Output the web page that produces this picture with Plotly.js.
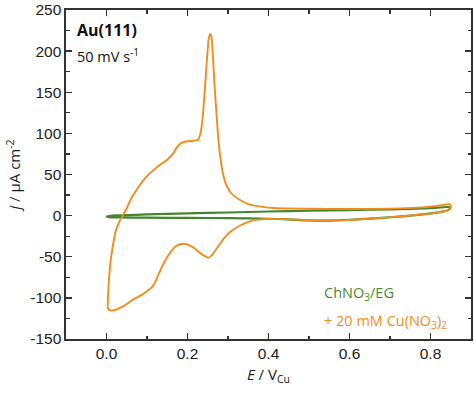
<!DOCTYPE html>
<html>
<head>
<meta charset="utf-8">
<script src="https://cdn.plot.ly/plotly-3.0.1.min.js"></script>
<style>html,body{margin:0;padding:0;background:#fff;}#chart{width:474px;height:395px;}</style>
</head>
<body>
<div id="chart"></div>
<script>
// Orange: + 20 mM Cu(NO3)2 (anodic then cathodic sweep)
var cuE = [0.003,0.004,0.006,0.010,0.016,0.022,0.030,0.040,0.050,0.060,0.070,0.085,0.100,0.115,0.130,0.150,0.165,0.175,0.185,0.200,0.215,0.225,0.232,0.238,0.243,0.248,0.252,0.256,0.259,0.262,0.266,0.270,0.275,0.280,0.288,0.296,0.305,0.315,0.330,0.350,0.380,0.420,0.500,0.600,0.700,0.780,0.820,0.845,0.850,
           0.848,0.840,0.820,0.780,0.720,0.660,0.600,0.550,0.500,0.450,0.400,0.360,0.330,0.310,0.296,0.285,0.272,0.262,0.252,0.242,0.231,0.218,0.206,0.195,0.185,0.172,0.160,0.148,0.138,0.128,0.120,0.112,0.100,0.088,0.075,0.062,0.050,0.038,0.025,0.015,0.008,0.004,0.003];
var cuJ = [-111,-95,-78,-56,-36,-20,-9,0,9,20,28,39,48,55,61,68,76,84,88.5,90.5,91,92,100,122,155,190,214,221,218,200,165,135,100,75,50,37,29,24,19,14,11,9,8.5,8,8.5,10,12,13.8,12.5,
           9,6,4,1.5,-1.2,-3.5,-5.3,-6,-5.5,-4.5,-4,-6,-12,-18,-24,-31,-40,-47,-51,-49,-45.5,-40,-36.5,-34.5,-34.5,-37,-43,-52,-61,-72,-81,-87,-92,-96,-99.5,-103,-107.5,-111,-114,-115.5,-115,-113,-111];
// Green: ChNO3/EG blank
var blankE = [0.000,0.020,0.100,0.200,0.300,0.400,0.500,0.600,0.700,0.800,0.840,0.850,0.845,0.820,0.750,0.700,0.600,0.550,0.500,0.450,0.400,0.300,0.200,0.100,0.030,0.005,0.000];
var blankJ = [-1.2,0.2,1.5,2.8,3.8,5,6,6.8,7.5,9,10.5,10,7,4,0,-2,-5,-6,-5.8,-4.5,-3.8,-3,-2.8,-2.5,-2.2,-1.8,-1.2];

var xTicks = [0.0,0.2,0.4,0.6,0.8];
var xTickText = ['0.0','0.2','0.4','0.6','0.8'];
var yTicks = [-150,-100,-50,0,50,100,150,200,250];
var yTickText = ['-150','-100','-50','0','50','100','150','200','250'];

var green = '#44862f';
var orange = '#f28c1c';
var tickFont = {family:'Liberation Sans, Arial, sans-serif', size:15.5, color:'#222'};
var txtFont = 'Open Sans, Noto Sans, sans-serif';

var traces = [
  {x: blankE, y: blankJ, mode:'lines', line:{color:green, width:2.2, shape:'spline', smoothing:0.5}, hoverinfo:'skip'},
  {x: cuE, y: cuJ, mode:'lines', line:{color:orange, width:1.9, shape:'spline', smoothing:0.4}, hoverinfo:'skip'}
];

var axisCommon = {
  showline:true, linecolor:'#333', linewidth:1.6, mirror:'ticks',
  ticks:'inside', ticklen:6, tickwidth:1.4, tickcolor:'#333',
  showgrid:false, zeroline:false, tickfont:tickFont
};

var layout = {
  width:474, height:395,
  margin:{l:66, r:3, t:10, b:56},
  paper_bgcolor:'#fff', plot_bgcolor:'#fff',
  showlegend:false,
  xaxis: Object.assign({}, axisCommon, {
    range:[-0.1,0.9], tickmode:'array', tickvals:xTicks, ticktext:xTickText,
    minor:{ticks:'inside', dtick:0.1, tick0:0, ticklen:3.5, tickwidth:1.2, tickcolor:'#333'},
    title:{text:'<i>E</i> / V<sub>Cu</sub>', font:{family:txtFont, size:15, color:'#222'}, standoff:8}
  }),
  yaxis: Object.assign({}, axisCommon, {
    range:[-150,250], tickmode:'array', tickvals:yTicks, ticktext:yTickText,
    minor:{ticks:'inside', dtick:25, tick0:0, ticklen:3.5, tickwidth:1.2, tickcolor:'#333'},
    title:{text:'<i>j</i> / μA cm<sup>-2</sup>', font:{family:txtFont, size:15, color:'#222'}, standoff:6}
  }),
  annotations:[
    {xref:'paper', yref:'paper', x:0.022, y:0.94, xanchor:'left', yanchor:'middle', showarrow:false,
     text:'<b>Au(111)</b>', font:{family:txtFont, size:16, color:'#111'}},
    {xref:'paper', yref:'paper', x:0.022, y:0.863, xanchor:'left', yanchor:'middle', showarrow:false,
     text:'50 mV s<sup>-1</sup>', font:{family:txtFont, size:14.5, color:'#111'}},
    {xref:'paper', yref:'paper', x:0.633, y:0.137, xanchor:'left', yanchor:'middle', showarrow:false,
     text:'ChNO<sub>3</sub>/EG', font:{family:txtFont, size:14.5, color:'#4a8a2e'}},
    {xref:'paper', yref:'paper', x:0.633, y:0.053, xanchor:'left', yanchor:'middle', showarrow:false,
     text:'+ 20 mM Cu(NO<sub>3</sub>)<sub>2</sub>', font:{family:txtFont, size:14.5, color:orange}}
  ]
};

Plotly.newPlot('chart', traces, layout, {staticPlot:true, displayModeBar:false});
</script>
</body>
</html>
